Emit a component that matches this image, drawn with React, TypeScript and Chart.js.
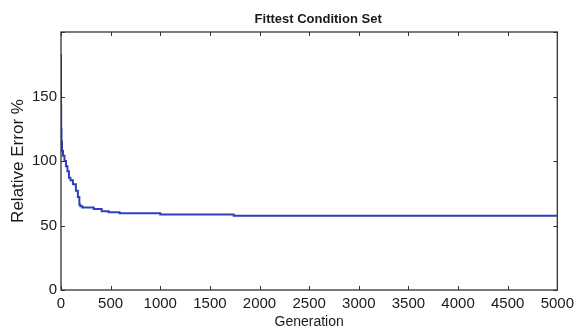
import React, { useEffect, useRef } from "react";
import { Chart, registerables } from "chart.js";

Chart.register(...registerables);

const titleText = "Fittest Condition Set";
const generations = [0, 2, 5, 10, 20, 35, 50, 65, 80, 95, 120, 150, 170, 185, 195, 215, 330, 410, 480, 590, 1000, 1740, 2560, 5000];
const relativeError = [183, 143, 125, 115, 108, 104, 100, 96, 92, 87, 85, 82, 77, 72, 66, 65, 64, 62.8, 61, 60.2, 59.5, 58.6, 57.6, 57.6];
const xTicks = [0, 500, 1000, 1500, 2000, 2500, 3000, 3500, 4000, 4500, 5000];
const yTicks = [0, 50, 100, 150, 200];
const yLabelTicks = [0, 50, 100, 150];

const font = "'Liberation Sans', Arial, sans-serif";

const frameAndTitle = {
  id: "frameAndTitle",
  afterDraw(chart: any) {
    const { ctx, chartArea: a, scales } = chart;
    const len = 4;
    ctx.save();
    ctx.strokeStyle = "#333";
    ctx.lineWidth = 1;
    ctx.beginPath();
    xTicks.forEach((v) => {
      const px = Math.round(scales.x.getPixelForValue(v)) + 0.5;
      ctx.moveTo(px, a.bottom);
      ctx.lineTo(px, a.bottom - len);
      ctx.moveTo(px, a.top);
      ctx.lineTo(px, a.top + len);
    });
    yTicks.forEach((v) => {
      const py = Math.round(scales.y.getPixelForValue(v)) + 0.5;
      ctx.moveTo(a.left, py);
      ctx.lineTo(a.left + len, py);
      ctx.moveTo(a.right, py);
      ctx.lineTo(a.right - len, py);
    });
    ctx.stroke();
    ctx.lineWidth = 1.3;
    ctx.strokeRect(a.left, a.top, a.right - a.left, a.bottom - a.top);
    ctx.fillStyle = "#1a1a1a";
    ctx.font = `bold 13px ${font}`;
    ctx.textAlign = "center";
    ctx.textBaseline = "middle";
    ctx.fillText(titleText, (a.left + a.right) / 2 + 9, 19);
    ctx.restore();
  },
};

export default function App() {
  const ref = useRef<HTMLCanvasElement>(null);
  useEffect(() => {
    document.body.style.margin = "0";
    const data = generations.map((g, i) => ({ x: g, y: relativeError[i] }));
    const chart = new Chart(ref.current!, {
      type: "line",
      data: {
        datasets: [
          {
            data,
            stepped: "after",
            borderColor: "#2f40b6",
            borderWidth: 2,
            pointRadius: 0,
            fill: false,
          },
        ],
      },
      options: {
        animation: false,
        responsive: false,
        layout: { padding: { left: 0, right: 20, top: 32, bottom: 0 } },
        plugins: {
          legend: { display: false },
          tooltip: { enabled: false },
          title: { display: false },
        },
        scales: {
          x: {
            type: "linear",
            min: 0,
            max: 5000,
            afterBuildTicks: (s: any) => {
              s.ticks = xTicks.map((v) => ({ value: v }));
            },
            afterFit: (s: any) => {
              s.height = 41;
            },
            grid: { display: false, drawTicks: false },
            border: { display: false },
            ticks: {
              color: "#1a1a1a",
              font: { family: font, size: 15 },
              padding: 5,
              maxRotation: 0,
              autoSkip: false,
              callback: (v: any) => String(v),
            },
            title: {
              display: true,
              text: "Generation",
              color: "#1a1a1a",
              font: { family: font, size: 14 },
              padding: { top: 0, bottom: 0 },
            },
          },
          y: {
            type: "linear",
            min: 0,
            max: 200,
            afterBuildTicks: (s: any) => {
              s.ticks = yLabelTicks.map((v) => ({ value: v }));
            },
            afterFit: (s: any) => {
              s.width = 61;
            },
            grid: { display: false, drawTicks: false },
            border: { display: false },
            ticks: {
              color: "#1a1a1a",
              font: { family: font, size: 15 },
              padding: 4,
              callback: (v: any) => String(v),
            },
            title: {
              display: true,
              text: "Relative Error %",
              color: "#1a1a1a",
              font: { family: font, size: 17 },
              padding: { top: 8, bottom: 0 },
            },
          },
        },
      },
      plugins: [frameAndTitle],
    });
    return () => chart.destroy();
  }, []);
  return <canvas ref={ref} width={579} height={331} style={{ display: "block" }} />;
}
